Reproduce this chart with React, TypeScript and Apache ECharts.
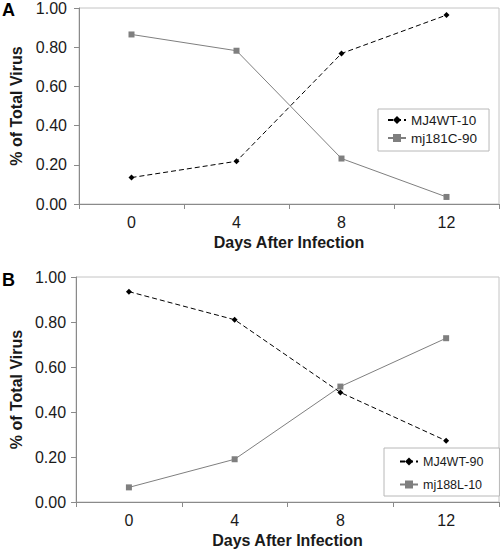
import React, { useEffect, useRef } from "react";
import * as echarts from "echarts";

const days = ["0", "4", "8", "12"];
const seriesA1Name = "MJ4WT-10";
const seriesA1 = [0.135, 0.218, 0.768, 0.964];
const seriesA2Name = "mj181C-90";
const seriesA2 = [0.865, 0.782, 0.232, 0.036];
const seriesB1Name = "MJ4WT-90";
const seriesB1 = [0.935, 0.81, 0.487, 0.272];
const seriesB2Name = "mj188L-10";
const seriesB2 = [0.065, 0.19, 0.513, 0.728];
const yMin = 0;
const yMax = 1;
const yStep = 0.2;

const FONT = "Liberation Sans, Arial, sans-serif";
const TEXT = "#1a1a1a";

function xAxis(gridIndex: number) {
  return {
    type: "category",
    gridIndex,
    data: days,
    boundaryGap: true,
    name: "Days After Infection",
    nameLocation: "middle",
    nameGap: 30,
    nameTextStyle: { fontFamily: FONT, fontSize: 16, fontWeight: "bold", color: TEXT },
    axisLine: { show: true, lineStyle: { color: "#8a8a8a", width: 1 } },
    axisTick: { show: true, alignWithLabel: false, length: 5, lineStyle: { color: "#8a8a8a" } },
    axisLabel: { fontFamily: FONT, fontSize: 16, color: TEXT, margin: 10 },
    splitLine: { show: false },
  };
}

function yAxis(gridIndex: number, nameGap: number, margin: number) {
  return {
    type: "value",
    gridIndex,
    min: yMin,
    max: yMax,
    interval: yStep,
    name: "% of Total Virus",
    nameLocation: "middle",
    nameGap,
    nameTextStyle: { fontFamily: FONT, fontSize: 16, fontWeight: "bold", color: TEXT },
    axisLine: { show: true, lineStyle: { color: "#8a8a8a", width: 1 } },
    axisTick: { show: true, length: 5, lineStyle: { color: "#8a8a8a" } },
    axisLabel: {
      fontFamily: FONT,
      fontSize: 16,
      color: TEXT,
      margin,
      formatter: (v: number) => v.toFixed(2),
    },
    splitLine: { show: false },
  };
}

function dashed(name: string, data: number[], idx: number) {
  return {
    type: "line",
    name,
    data,
    xAxisIndex: idx,
    yAxisIndex: idx,
    symbol: "diamond",
    symbolSize: 6,
    showAllSymbol: true,
    itemStyle: { color: "#000000" },
    lineStyle: { color: "#000000", width: 1, type: [5, 3] },
    z: 3,
  };
}

function solid(name: string, data: number[], idx: number) {
  return {
    type: "line",
    name,
    data,
    xAxisIndex: idx,
    yAxisIndex: idx,
    symbol: "rect",
    symbolSize: 6,
    showAllSymbol: true,
    itemStyle: { color: "#7f7f7f" },
    lineStyle: { color: "#7f7f7f", width: 1, type: "solid" },
    z: 2,
  };
}

export default function App() {
  const ref = useRef<HTMLDivElement>(null);
  useEffect(() => {
    if (!ref.current) return;
    const chart = echarts.init(ref.current, undefined, { renderer: "svg" });
    chart.setOption({
      animation: false,
      backgroundColor: "#ffffff",
      grid: [
        { left: 68, top: 6, right: 1, height: 198, show: true, borderColor: "#c4c4c4", borderWidth: 1, containLabel: false },
        { left: 64, top: 277, right: 1, bottom: 46, show: true, borderColor: "#c4c4c4", borderWidth: 1, containLabel: false },
      ],
      xAxis: [xAxis(0), xAxis(1)],
      yAxis: [yAxis(0, 55, 12), yAxis(1, 51, 10)],
      legend: [
        {
          orient: "vertical",
          left: 378,
          top: 109,
          data: [seriesA1Name, seriesA2Name],
          itemWidth: 18,
          itemHeight: 10,
          itemGap: 4,
          padding: [4, 12, 6, 9],
          borderColor: "#b8b8b8",
          borderWidth: 1,
          backgroundColor: "#ffffff",
          textStyle: { fontFamily: FONT, fontSize: 13.5, color: TEXT },
        },
        {
          orient: "vertical",
          left: 384,
          top: 448,
          data: [seriesB1Name, seriesB2Name],
          itemWidth: 18,
          itemHeight: 10,
          itemGap: 10,
          padding: [7, 16, 5, 15],
          borderColor: "#b8b8b8",
          borderWidth: 1,
          backgroundColor: "#ffffff",
          textStyle: { fontFamily: FONT, fontSize: 12.5, color: TEXT },
        },
      ],
      graphic: [
        { type: "text", left: 2, top: 1, style: { text: "A", font: "bold 18px " + FONT, fill: "#000" } },
        { type: "text", left: 2, top: 271, style: { text: "B", font: "bold 18px " + FONT, fill: "#000" } },
      ],
      series: [
        dashed(seriesA1Name, seriesA1, 0),
        solid(seriesA2Name, seriesA2, 0),
        dashed(seriesB1Name, seriesB1, 1),
        solid(seriesB2Name, seriesB2, 1),
      ],
    });
    return () => chart.dispose();
  }, []);
  return (
    <div
      ref={ref}
      style={{ position: "absolute", left: 0, top: 0, width: 500, height: 549, background: "#fff" }}
    />
  );
}
